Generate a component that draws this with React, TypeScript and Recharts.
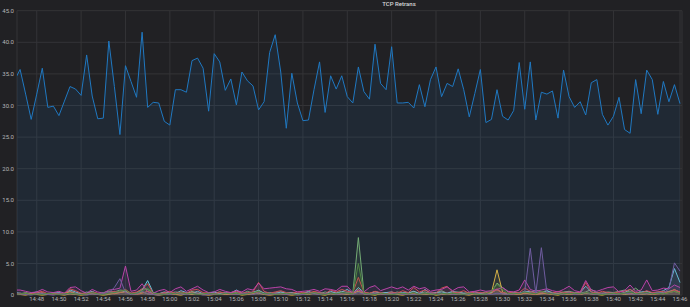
import { ComposedChart, Area, XAxis, YAxis, CartesianGrid } from 'recharts';

// minutes after 14:00, one sample every 30s (first one sits just left of the panel edge)
const times = Array.from({ length: 121 }, (_, i) => 46 + i * 0.5);

const xTicks = [48, 50, 52, 54, 56, 58, 60, 62, 64, 66, 68, 70, 72, 74, 76, 78, 80, 82, 84, 86, 88, 90, 92, 94, 96, 98, 100, 102, 104, 106];
const yTicks = [0, 5, 10, 15, 20, 25, 30, 35, 40, 45];

const retransBlue = [
  34.0, 35.7, 31.8, 27.8, 31.8, 35.9, 29.7, 29.9, 28.4, 30.7,
  33.0, 32.6, 31.6, 38.0, 31.5, 27.9, 28.0, 40.2, 33.0, 25.4,
  36.3, 33.8, 31.3, 41.6, 29.7, 30.5, 30.4, 27.5, 26.9, 32.5,
  32.5, 32.1, 37.1, 37.5, 35.9, 29.1, 38.2, 36.9, 32.4, 34.2,
  30.1, 35.3, 33.9, 33.1, 29.3, 30.6, 38.4, 41.2, 35.3, 26.4,
  35.1, 30.4, 27.6, 27.7, 32.5, 36.9, 28.9, 34.7, 32.6, 34.7,
  31.4, 30.4, 36.1, 32.2, 31.0, 39.7, 33.5, 32.5, 39.3, 30.4,
  30.4, 30.5, 29.6, 33.3, 29.8, 34.1, 36.1, 31.4, 33.5, 33.0,
  35.8, 32.5, 28.2, 31.9, 35.7, 27.3, 27.8, 32.5, 28.3, 27.7,
  29.2, 36.8, 29.4, 36.9, 27.7, 32.1, 31.8, 32.3, 28.0, 35.6,
  31.4, 29.7, 30.6, 28.5, 33.6, 34.1, 28.6, 26.9, 28.3, 31.3,
  26.2, 25.6, 34.1, 28.7, 35.6, 34.1, 28.6, 33.8, 30.6, 33.3,
  30.3,
];

const retransGreen = [
  0.3, 0.2, 0.4, 0.2, 0.1, 0.3, 0.2, 0.4, 0.2, 0.3,
  0.6, 0.3, 0.2, 0.5, 0.3, 0.2, 0.4, 0.6, 0.5, 0.8,
  0.7, 0.3, 0.4, 1.0, 0.9, 0.3, 0.2, 0.4, 0.3, 0.5,
  0.4, 0.2, 0.6, 0.3, 0.2, 0.4, 0.3, 0.5, 0.2, 0.3,
  0.4, 0.2, 0.6, 0.3, 0.8, 0.3, 0.2, 0.4, 0.5, 0.3,
  0.4, 0.2, 0.3, 0.6, 0.3, 0.2, 0.5, 0.3, 0.4, 0.6,
  0.4, 0.3, 9.1, 0.4, 0.3, 0.5, 0.3, 0.4, 0.2, 0.5,
  0.3, 0.4, 0.6, 0.3, 0.5, 0.2, 0.4, 0.7, 0.3, 0.4,
  0.5, 0.3, 0.4, 0.2, 0.3, 0.5, 0.4, 1.9, 1.2, 0.5,
  0.4, 0.3, 0.6, 0.4, 0.8, 0.5, 0.7, 0.4, 0.3, 0.5,
  0.6, 0.4, 0.3, 0.5, 0.9, 0.4, 0.3, 0.5, 0.4, 0.6,
  0.8, 0.5, 1.1, 0.4, 0.6, 0.3, 0.5, 0.4, 0.6, 0.8,
  0.5,
];

const retransYellow = [
  0.1, 0.1, 0.0, 0.2, 0.1, 0.0, 0.1, 0.2, 0.1, 0.0,
  0.2, 0.1, 0.0, 0.1, 0.2, 0.1, 0.0, 0.1, 0.3, 0.4,
  0.6, 0.1, 0.2, 0.5, 0.2, 0.1, 0.0, 0.1, 0.2, 0.1,
  0.0, 0.2, 0.1, 0.3, 0.1, 0.0, 0.1, 0.2, 0.1, 0.1,
  0.2, 0.0, 0.1, 0.2, 0.3, 0.1, 0.0, 0.1, 0.2, 0.1,
  0.0, 0.1, 0.2, 0.1, 0.3, 0.1, 0.0, 0.2, 0.1, 0.2,
  0.1, 0.3, 0.6, 0.2, 0.1, 0.0, 0.2, 0.1, 0.3, 0.1,
  0.0, 0.2, 0.1, 0.3, 0.1, 0.2, 0.0, 0.1, 0.2, 0.1,
  0.2, 0.1, 0.0, 0.2, 0.1, 0.3, 0.4, 4.0, 0.5, 0.1,
  0.2, 0.1, 0.3, 0.2, 0.1, 0.2, 0.3, 0.1, 0.0, 0.2,
  0.1, 0.2, 0.1, 0.3, 0.2, 0.1, 0.0, 0.2, 0.1, 0.3,
  0.1, 0.2, 0.3, 0.1, 0.2, 0.1, 0.3, 0.2, 0.4, 0.6,
  0.3,
];

const retransCyan = [
  0.4, 0.3, 0.2, 0.3, 0.5, 0.2, 0.1, 0.3, 0.4, 0.2,
  0.8, 0.5, 0.2, 0.3, 0.6, 0.2, 0.1, 0.3, 0.5, 0.4,
  0.6, 0.2, 0.3, 0.8, 2.3, 0.4, 0.2, 0.5, 0.3, 0.2,
  0.7, 0.4, 0.3, 0.6, 0.2, 0.3, 0.5, 0.2, 0.4, 0.3,
  0.8, 0.3, 0.2, 0.5, 0.7, 0.3, 0.4, 0.2, 0.5, 0.3,
  0.4, 0.2, 0.3, 0.5, 0.3, 0.4, 0.2, 0.6, 0.3, 0.5,
  0.9, 0.3, 1.2, 0.4, 0.2, 0.6, 0.3, 0.4, 0.5, 0.2,
  0.4, 0.3, 0.6, 0.2, 0.9, 0.3, 0.4, 0.5, 0.3, 0.6,
  0.4, 0.3, 0.2, 0.5, 0.3, 0.2, 0.4, 0.9, 0.3, 0.2,
  0.4, 0.3, 0.5, 0.6, 0.4, 0.3, 0.7, 0.3, 0.2, 0.4,
  0.5, 0.3, 0.4, 1.4, 0.5, 0.3, 0.2, 0.4, 0.3, 0.2,
  0.4, 0.9, 0.3, 0.5, 0.6, 0.3, 0.4, 0.7, 1.2, 4.2,
  2.0,
];

const retransOrange = [
  0.2, 0.1, 0.3, 0.1, 0.2, 0.4, 0.1, 0.2, 0.1, 0.3,
  0.5, 0.2, 0.1, 0.2, 0.3, 0.1, 0.2, 0.3, 0.2, 0.4,
  0.5, 0.2, 0.1, 0.3, 0.6, 0.2, 0.1, 0.2, 0.3, 0.1,
  0.3, 0.2, 0.4, 0.2, 0.1, 0.2, 0.3, 0.1, 0.2, 0.1,
  0.2, 0.3, 0.1, 0.2, 0.5, 0.2, 0.1, 0.3, 0.2, 0.1,
  0.2, 0.1, 0.3, 0.2, 0.4, 0.1, 0.2, 0.3, 0.1, 0.2,
  0.3, 0.1, 0.9, 0.2, 0.1, 0.3, 0.2, 0.1, 0.2, 0.3,
  0.1, 0.2, 0.3, 0.1, 0.2, 0.4, 0.1, 0.2, 0.3, 0.1,
  0.2, 0.1, 0.3, 0.2, 0.1, 0.2, 0.3, 1.0, 0.2, 0.1,
  0.2, 0.1, 0.3, 0.2, 0.1, 0.3, 0.2, 0.1, 0.2, 0.3,
  0.1, 0.2, 0.1, 0.4, 0.2, 0.1, 0.3, 0.2, 0.1, 0.2,
  0.3, 0.2, 0.1, 0.2, 0.3, 0.1, 0.2, 0.3, 0.5, 0.9,
  0.4,
];

const retransRed = [
  0.2, 0.3, 0.1, 0.2, 0.4, 0.6, 0.2, 0.1, 0.3, 0.2,
  1.0, 0.7, 0.3, 0.2, 0.5, 0.3, 0.2, 0.4, 0.6, 0.5,
  0.9, 0.3, 0.5, 0.9, 1.8, 0.3, 0.2, 0.4, 0.6, 0.3,
  0.5, 0.3, 0.8, 0.9, 0.4, 0.3, 0.2, 0.5, 0.3, 0.4,
  0.6, 0.3, 0.4, 0.5, 2.0, 0.6, 0.3, 0.5, 0.7, 0.4,
  0.3, 0.5, 0.4, 0.3, 0.6, 0.4, 0.2, 0.8, 0.5, 0.9,
  0.6, 0.4, 2.8, 0.5, 0.3, 0.6, 0.4, 0.2, 0.5, 0.3,
  0.7, 0.4, 1.2, 0.5, 0.8, 0.4, 0.3, 1.1, 1.4, 0.5,
  0.4, 0.7, 0.3, 0.5, 0.4, 0.3, 0.6, 0.8, 0.4, 0.3,
  0.5, 0.4, 1.1, 0.6, 0.3, 0.5, 0.4, 0.3, 0.6, 0.4,
  0.5, 0.3, 0.4, 2.0, 0.5, 0.3, 0.6, 0.4, 0.3, 0.5,
  0.6, 0.9, 0.4, 0.3, 0.7, 0.4, 0.5, 0.6, 0.4, 0.8,
  0.5,
];

const retransMagenta = [
  0.8, 0.8, 0.6, 0.4, 0.5, 0.9, 0.5, 0.4, 0.6, 0.3,
  1.2, 1.3, 0.7, 0.3, 0.9, 0.5, 0.3, 0.8, 0.9, 1.1,
  4.6, 0.6, 0.8, 1.8, 0.5, 0.3, 0.7, 0.9, 0.4, 1.0,
  1.3, 0.6, 1.0, 1.4, 0.8, 0.4, 0.5, 0.9, 0.6, 0.4,
  0.7, 0.5, 1.0, 0.8, 1.9, 1.0, 1.1, 1.2, 1.3, 1.0,
  0.9, 0.5, 0.6, 0.7, 0.9, 0.6, 1.0, 0.9, 0.7, 1.4,
  1.4, 0.4, 0.8, 0.5, 1.2, 1.5, 0.7, 1.0, 1.3, 1.0,
  1.3, 0.8, 1.4, 1.0, 1.2, 0.6, 0.8, 0.9, 1.3, 0.7,
  1.2, 1.3, 0.5, 0.6, 0.8, 0.6, 0.7, 0.9, 1.2, 0.6,
  0.5, 0.8, 2.4, 0.9, 0.6, 0.8, 1.0, 0.7, 0.5, 0.9,
  1.4, 0.7, 0.5, 2.3, 0.8, 0.6, 0.9, 1.2, 1.3, 0.5,
  0.7, 1.6, 0.6, 0.8, 2.4, 0.7, 0.8, 1.1, 1.0, 1.6,
  1.2,
];

const retransPurple = [
  0.1, 0.2, 0.1, 0.0, 0.2, 0.3, 0.1, 0.0, 0.2, 0.1,
  0.3, 0.2, 0.1, 0.0, 0.2, 0.1, 0.3, 0.4, 1.2, 2.6,
  0.4, 0.1, 0.2, 0.6, 0.2, 0.1, 0.0, 0.2, 0.1, 0.3,
  0.2, 0.1, 0.3, 0.2, 0.0, 0.1, 0.2, 0.1, 0.3, 0.2,
  0.1, 0.2, 0.3, 0.1, 0.4, 0.2, 0.1, 0.3, 0.2, 0.1,
  0.2, 0.0, 0.1, 0.3, 0.2, 0.1, 0.2, 0.3, 0.1, 0.2,
  0.3, 0.1, 0.4, 0.2, 0.1, 0.3, 0.2, 0.1, 0.2, 0.3,
  0.1, 0.2, 0.1, 0.3, 0.2, 0.4, 0.1, 0.2, 0.3, 0.1,
  0.2, 0.1, 0.2, 0.3, 0.1, 0.2, 0.1, 0.3, 0.2, 0.1,
  0.2, 0.3, 0.5, 7.4, 0.3, 7.5, 0.4, 0.2, 0.1, 0.2,
  0.3, 0.1, 0.2, 0.4, 0.2, 0.1, 0.3, 0.2, 0.1, 0.2,
  0.3, 0.2, 0.1, 0.2, 0.3, 0.2, 0.4, 0.3, 1.0, 5.1,
  3.8,
];

const retransDarkGreen = [
  0.1, 0.2, 0.3, 0.1, 0.2, 0.1, 0.3, 0.2, 0.1, 0.2,
  0.3, 0.2, 0.1, 0.2, 0.4, 0.2, 0.1, 0.3, 0.4, 0.6,
  0.8, 0.2, 0.3, 0.7, 1.1, 0.3, 0.2, 0.1, 0.3, 0.2,
  0.4, 0.2, 0.3, 0.1, 0.2, 0.3, 0.2, 0.1, 0.3, 0.2,
  0.3, 0.1, 0.2, 0.4, 0.6, 0.2, 0.3, 0.1, 0.2, 0.3,
  0.2, 0.1, 0.3, 0.2, 0.4, 0.2, 0.1, 0.3, 0.2, 0.4,
  0.3, 0.2, 5.0, 0.3, 0.2, 0.1, 0.3, 0.2, 0.1, 0.2,
  0.3, 0.2, 0.4, 0.1, 0.3, 0.2, 0.1, 0.3, 0.2, 0.3,
  0.2, 0.1, 0.3, 0.2, 0.1, 0.2, 0.6, 1.7, 0.9, 0.2,
  0.3, 0.2, 0.5, 0.3, 0.2, 0.6, 0.3, 0.2, 0.1, 0.3,
  0.2, 0.3, 0.2, 0.4, 0.3, 0.2, 0.1, 0.2, 0.3, 0.2,
  0.3, 0.5, 0.2, 0.3, 0.4, 0.2, 0.3, 0.2, 0.4, 0.6,
  0.3,
];

// grafana classic palette, drawn in query order
const SERIES = [
  { key: 'green', values: retransGreen, color: '#7EB26D' },
  { key: 'yellow', values: retransYellow, color: '#EAB839' },
  { key: 'cyan', values: retransCyan, color: '#6ED0E0' },
  { key: 'orange', values: retransOrange, color: '#EF843C' },
  { key: 'red', values: retransRed, color: '#E24D42' },
  { key: 'blue', values: retransBlue, color: '#1F78C1' },
  { key: 'magenta', values: retransMagenta, color: '#BA43A9' },
  { key: 'purple', values: retransPurple, color: '#705DA0' },
  { key: 'darkgreen', values: retransDarkGreen, color: '#508642' },
];

const data = times.map((t, i) => {
  const row: Record<string, number> = { t };
  SERIES.forEach((s) => {
    row[s.key] = s.values[i];
  });
  return row;
});

const fmtTime = (m: number) => {
  const h = 14 + Math.floor(m / 60);
  const mm = m % 60;
  return `${h}:${mm < 10 ? '0' : ''}${mm}`;
};

const tickStyle = { fill: '#b4b5b8', fontSize: 6, fontFamily: 'Roboto, sans-serif' };

export default function App() {
  return (
    <div style={{ position: 'fixed', left: 0, top: 0, width: 690, height: 307, background: '#212124', overflow: 'hidden' }}>
      <div
        style={{
          position: 'absolute',
          left: 349,
          width: 100,
          top: 0,
          textAlign: 'center',
          fontFamily: 'Roboto, sans-serif',
          fontSize: 6,
          fontWeight: 500,
          lineHeight: '8px',
          color: '#d8d9da',
        }}
      >
        TCP Retrans
      </div>
      <ComposedChart width={690} height={307} data={data} margin={{ top: 10.7, right: 8, bottom: 0, left: 0 }}>
        <CartesianGrid stroke="#343437" strokeWidth={1} />
        <XAxis
          dataKey="t"
          type="number"
          domain={[46.22, 106.18]}
          allowDataOverflow
          ticks={xTicks}
          tickFormatter={fmtTime}
          axisLine={false}
          tickLine={false}
          tickSize={0}
          tickMargin={1.5}
          height={11.9}
          tick={tickStyle}
        />
        <YAxis
          type="number"
          domain={[0, 45]}
          ticks={yTicks}
          tickFormatter={(v: number) => (v === 0 ? '0' : v.toFixed(1))}
          axisLine={false}
          tickLine={false}
          tickSize={0}
          tickMargin={3}
          width={17}
          tick={tickStyle}
        />
        {SERIES.map((s) => (
          <Area
            key={s.key}
            type="linear"
            dataKey={s.key}
            stroke={s.color}
            strokeWidth={1}
            fill={s.color}
            fillOpacity={0.1}
            dot={false}
            activeDot={false}
            isAnimationActive={false}
          />
        ))}
      </ComposedChart>
    </div>
  );
}
